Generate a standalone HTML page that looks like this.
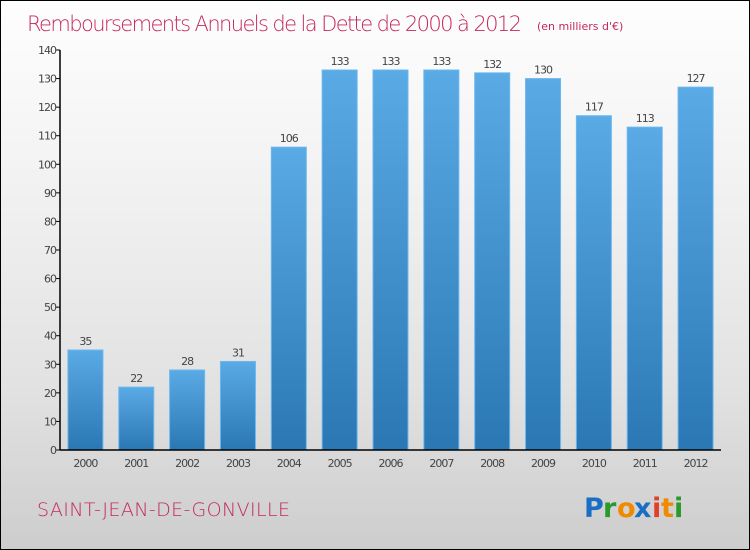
<!DOCTYPE html>
<html><head><meta charset="utf-8"><style>
body{margin:0;}
#wrap{width:748px;height:548px;border:1px solid #000;background:linear-gradient(#fefefe,#f3f3f3 30%,#e2e2e2 70%,#cdcdcd);position:relative;overflow:hidden;font-family:"DejaVu Sans","Liberation Sans",sans-serif;}
</style></head><body>
<div id="wrap">
<svg width="748" height="548" xmlns="http://www.w3.org/2000/svg" id="svg">
<defs><linearGradient id="g" x1="0" y1="0" x2="0" y2="1"><stop offset="0" stop-color="#5aaae6"/><stop offset="1" stop-color="#2a77b3"/></linearGradient></defs>
<text x="26" y="30" font-size="21" fill="#c4275e" font-family="DejaVu Sans, sans-serif" font-weight="200" textLength="495">Remboursements Annuels de la Dette de 2000 à 2012</text>
<text x="536" y="29" font-size="11" fill="#c4275e">(en milliers d'€)</text>
<g id="plot"></g>
<text x="36" y="515" font-size="19" fill="#c4275e" font-weight="200" textLength="253">SAINT-JEAN-DE-GONVILLE</text>
<g font-size="27" font-family="DejaVu Sans, sans-serif" font-weight="bold">
<text x="583" y="516" fill="#1a6fc4">P</text><text x="602" y="516" fill="#2a9a2a">r</text><text x="616" y="516" fill="#f08a00">o</text><text x="633" y="516" fill="#1a6fc4">x</text><text x="651" y="516" fill="#e0402a">i</text><text x="660" y="516" fill="#f08a00">t</text><text x="673" y="516" fill="#2a9a2a">i</text></g>
</svg></div>
<script>
const years=["2000","2001","2002","2003","2004","2005","2006","2007","2008","2009","2010","2011","2012"];
const values=[35,22,28,31,106,133,133,133,132,130,117,113,127];
const yTicks=[0,10,20,30,40,50,60,70,80,90,100,110,120,130,140];
const ns="http://www.w3.org/2000/svg",P=document.getElementById('plot');
const x0=59,x1=720,y0=449,yTop=49,yMax=140;
const band=(x1-x0)/years.length,bw=35;
const ys=v=>y0-(v/yMax)*(y0-yTop);
function mk(t,a){const e=document.createElementNS(ns,t);for(const k in a)e.setAttribute(k,a[k]);P.appendChild(e);return e;}
yTicks.forEach(v=>{const y=ys(v);
const l=mk('line',{x1:x0-4,x2:x0,y1:y,y2:y,stroke:'#000'});


const t=mk('text',{x:x0-4,y:y+4,'text-anchor':'end','font-size':11,fill:'#444','letter-spacing':'-1'});t.textContent=v;

});
years.forEach((yr,i)=>{const cx=x0+band*(i+0.5),v=values[i],y=ys(v);
const r=mk('rect',{x:cx-bw/2,y:y,width:bw,height:y0-y,fill:'url(#g)',stroke:'#6cb8ee','stroke-width':1});


const t=mk('text',{x:cx,y:y-5,'text-anchor':'middle','font-size':11,fill:'#444','letter-spacing':'-1'});t.textContent=v;


const xl=mk('text',{x:cx,y:y0+17,'text-anchor':'middle','font-size':11,fill:'#444','letter-spacing':'-1'});xl.textContent=yr;

});
const ya=mk('line',{x1:x0,x2:x0,y1:yTop,y2:y0,stroke:'#000','stroke-width':1.5});


const xa=mk('line',{x1:x0,x2:x1,y1:y0,y2:y0,stroke:'#000','stroke-width':1.5});


</script>
</body></html>
